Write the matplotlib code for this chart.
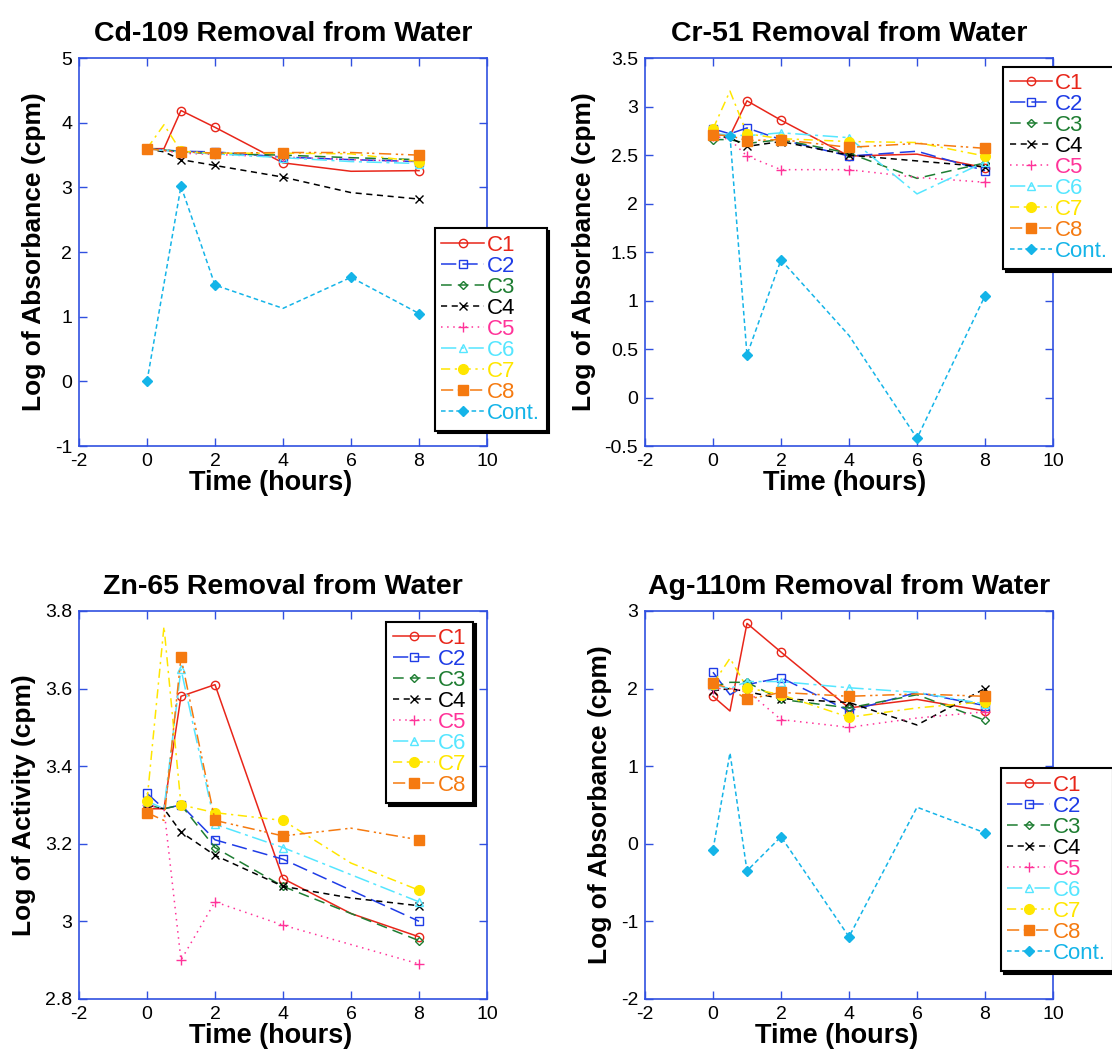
import matplotlib
matplotlib.use("Agg")
import matplotlib.pyplot as plt
from matplotlib.ticker import FuncFormatter, MultipleLocator

plt.rcParams['font.family'] = ['Liberation Sans', 'DejaVu Sans']

# time points (hours); 0.5 is an unmarked vertex in the original plots
t = [0, 0.5, 1, 2, 4, 6, 8]
marked_t = [0, 1, 2, 4, 8]

labels = ['C1', 'C2', 'C3', 'C4', 'C5', 'C6', 'C7', 'C8']

# Cd-109
cd_c1 = [3.60, 3.60, 4.19, 3.93, 3.38, 3.25, 3.26]
cd_c2 = [3.60, 3.58, 3.56, 3.55, 3.47, 3.43, 3.40]
cd_c3 = [3.60, 3.58, 3.55, 3.52, 3.50, 3.46, 3.43]
cd_c4 = [3.60, 3.55, 3.43, 3.34, 3.16, 2.92, 2.82]
cd_c5 = [3.60, 3.57, 3.53, 3.51, 3.47, 3.43, 3.40]
cd_c6 = [3.60, 3.57, 3.55, 3.52, 3.46, 3.40, 3.37]
cd_c7 = [3.60, 3.97, 3.56, 3.53, 3.53, 3.52, 3.40]
cd_c8 = [3.60, 3.57, 3.55, 3.53, 3.54, 3.54, 3.50]
cd_cont_t = [0, 1, 2, 4, 6, 8]
cd_cont = [0.0, 3.02, 1.49, 1.13, 1.61, 1.05]
cd_cont_marked = [0, 1, 2, 6, 8]

# Cr-51
cr_c1 = [2.72, 2.70, 3.06, 2.86, 2.49, 2.51, 2.37]
cr_c2 = [2.77, 2.72, 2.78, 2.66, 2.49, 2.54, 2.34]
cr_c3 = [2.66, 2.66, 2.62, 2.66, 2.52, 2.26, 2.42]
cr_c4 = [2.70, 2.68, 2.59, 2.64, 2.50, 2.44, 2.38]
cr_c5 = [2.70, 2.66, 2.49, 2.35, 2.35, 2.27, 2.22]
cr_c6 = [2.72, 2.71, 2.70, 2.73, 2.68, 2.10, 2.43]
cr_c7 = [2.77, 3.16, 2.72, 2.67, 2.64, 2.63, 2.49]
cr_c8 = [2.71, 2.70, 2.65, 2.66, 2.58, 2.62, 2.57]
cr_cont_t = [0.5, 1, 2, 4, 6, 8]
cr_cont = [2.70, 0.44, 1.42, 0.64, -0.42, 1.05]
cr_cont_marked = [0.5, 1, 2, 6, 8]

# Zn-65 (no control)
zn_c1 = [3.29, 3.29, 3.58, 3.61, 3.11, 3.02, 2.96]
zn_c2 = [3.33, 3.29, 3.30, 3.21, 3.16, 3.08, 3.00]
zn_c3 = [3.30, 3.29, 3.30, 3.19, 3.09, 3.02, 2.95]
zn_c4 = [3.30, 3.29, 3.23, 3.17, 3.09, 3.06, 3.04]
zn_c5 = [3.30, 3.29, 2.90, 3.05, 2.99, 2.94, 2.89]
zn_c6 = [3.31, 3.29, 3.65, 3.25, 3.19, 3.12, 3.05]
zn_c7 = [3.31, 3.76, 3.30, 3.28, 3.26, 3.15, 3.08]
zn_c8 = [3.28, 3.26, 3.68, 3.26, 3.22, 3.24, 3.21]

# Ag-110m
ag_c1 = [1.90, 1.71, 2.84, 2.47, 1.75, 1.86, 1.71]
ag_c2 = [2.21, 1.92, 2.05, 2.14, 1.71, 1.95, 1.78]
ag_c3 = [2.02, 2.08, 2.08, 1.86, 1.75, 1.92, 1.59]
ag_c4 = [1.97, 2.00, 1.96, 1.87, 1.82, 1.53, 2.00]
ag_c5 = [2.00, 2.00, 1.97, 1.60, 1.50, 1.62, 1.70]
ag_c6 = [2.05, 2.00, 2.09, 2.09, 2.01, 1.95, 1.80]
ag_c7 = [2.06, 2.39, 2.01, 1.92, 1.63, 1.75, 1.83]
ag_c8 = [2.07, 2.00, 1.86, 1.95, 1.90, 1.93, 1.90]
ag_cont_t = [0, 0.5, 1, 2, 4, 6, 8]
ag_cont = [-0.08, 1.17, -0.35, 0.09, -1.20, 0.47, 0.14]
ag_cont_marked = [0, 1, 2, 4, 8]

styles = [
    dict(color='#e8261a', ls='-', marker='o', mfc='none', ms=6),
    dict(color='#1f3ce6', ls=(0, (10, 4)), marker='s', mfc='none', ms=6),
    dict(color='#1e7d32', ls=(0, (7, 4)), marker='D', mfc='none', ms=4),
    dict(color='black', ls=(0, (4, 3)), marker='x', ms=6),
    dict(color='#ff3399', ls=(0, (1, 3)), marker='+', ms=7),
    dict(color='#55e6ff', ls=(0, (10, 3, 2, 3)), marker='^', mfc='none', ms=6),
    dict(color='#ffe600', ls=(0, (6, 3, 1.5, 3)), marker='o', ms=7),
    dict(color='#f57a10', ls=(0, (8, 3, 1.5, 2, 1.5, 3)), marker='s', ms=7),
]
cont_style = dict(color='#14b4e8', ls=(0, (3, 2)), marker='D', ms=5)

spine_blue = '#3050e0'


def marks(xs, keep):
    return [i for i, v in enumerate(xs) if v in keep]


def panel(ax, title, series, ylim, ystep, ylabel, cont=None, leg_xy=None, xlab_x=0.47):
    for y, lab, st in zip(series, labels, styles):
        ax.plot(t, y, lw=1.1, markevery=marks(t, marked_t), label=lab, **st)
    if cont is not None:
        ct, cy, cm = cont
        ax.plot(ct, cy, lw=1.1, markevery=marks(ct, cm), label='Cont.', **cont_style)
    ax.set_xlim(-2, 10)
    ax.set_ylim(*ylim)
    ax.xaxis.set_major_locator(MultipleLocator(2))
    ax.yaxis.set_major_locator(MultipleLocator(ystep))
    fmt = FuncFormatter(lambda v, p: '%g' % round(v, 3))
    ax.xaxis.set_major_formatter(fmt)
    ax.yaxis.set_major_formatter(fmt)
    ax.tick_params(direction='in', top=True, right=True, length=6, width=1,
                   color=spine_blue, labelsize=14, pad=5)
    for s in ax.spines.values():
        s.set_color(spine_blue)
        s.set_linewidth(1.2)
    ax.set_title(title, fontsize=20.5, fontweight='bold', pad=12)
    ax.set_xlabel('Time (hours)', fontsize=19.5, fontweight='bold')
    ax.xaxis.set_label_coords(xlab_x, -0.062, transform=ax.transAxes)
    ax.xaxis.label.set_va('top')
    ax.set_ylabel(ylabel, fontsize=19, fontweight='bold', labelpad=6)
    leg = ax.legend(loc='upper left', bbox_to_anchor=leg_xy, bbox_transform=fig.transFigure,
                    borderaxespad=0, fontsize=16, labelcolor='linecolor', numpoints=1,
                    handlelength=1.9, handletextpad=0.15, labelspacing=0.0, borderpad=0.3,
                    fancybox=False, framealpha=1, edgecolor='black',
                    shadow={'color': 'black', 'alpha': 1})
    leg.get_frame().set_linewidth(1.5)


fig = plt.figure(figsize=(11.12, 10.57), dpi=100)
w, h = 0.367, 0.367
ax1 = fig.add_axes([0.071, 0.578, w, h])
ax2 = fig.add_axes([0.580, 0.578, w, h])
ax3 = fig.add_axes([0.071, 0.055, w, h])
ax4 = fig.add_axes([0.580, 0.055, w, h])

panel(ax1, 'Cd-109 Removal from Water',
      [cd_c1, cd_c2, cd_c3, cd_c4, cd_c5, cd_c6, cd_c7, cd_c8],
      (-1, 5), 1, 'Log of Absorbance (cpm)',
      cont=(cd_cont_t, cd_cont, cd_cont_marked), leg_xy=(0.391, 0.784))
panel(ax2, 'Cr-51 Removal from Water',
      [cr_c1, cr_c2, cr_c3, cr_c4, cr_c5, cr_c6, cr_c7, cr_c8],
      (-0.5, 3.5), 0.5, 'Log of Absorbance (cpm)',
      cont=(cr_cont_t, cr_cont, cr_cont_marked), leg_xy=(0.902, 0.937), xlab_x=0.49)
panel(ax3, 'Zn-65 Removal from Water',
      [zn_c1, zn_c2, zn_c3, zn_c4, zn_c5, zn_c6, zn_c7, zn_c8],
      (2.8, 3.8), 0.2, 'Log of Activity (cpm)', leg_xy=(0.347, 0.412))
panel(ax4, 'Ag-110m Removal from Water',
      [ag_c1, ag_c2, ag_c3, ag_c4, ag_c5, ag_c6, ag_c7, ag_c8],
      (-2, 3), 1, 'Log of Absorbance (cpm)',
      cont=(ag_cont_t, ag_cont, ag_cont_marked), leg_xy=(0.900, 0.273))

fig.savefig('out.png', dpi=100)
